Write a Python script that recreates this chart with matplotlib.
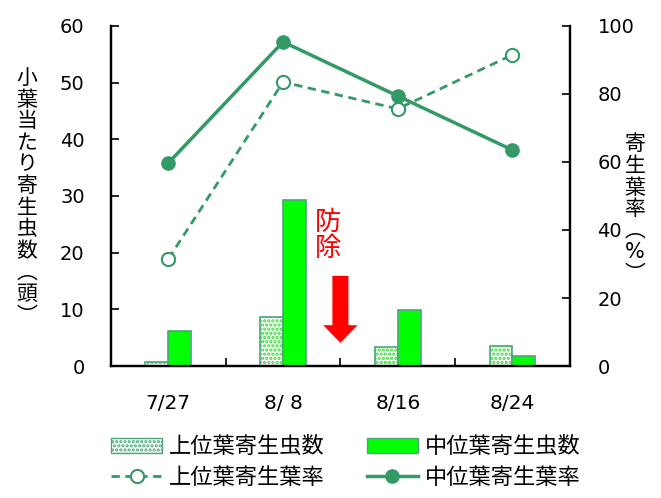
import matplotlib
matplotlib.use('Agg')
import matplotlib.pyplot as plt
from matplotlib.patches import Patch
from matplotlib.lines import Line2D
import numpy as np

plt.rcParams['font.family'] = ['DejaVu Sans', 'Noto Sans CJK JP']
plt.rcParams['hatch.linewidth'] = 1.6

dates = ['7/27', '8/ 8', '8/16', '8/24']
upper_count = [0.7, 8.7, 3.4, 3.6]     # 上位葉寄生虫数
middle_count = [6.2, 29.2, 9.9, 1.8]   # 中位葉寄生虫数
upper_rate = [31.5, 83.5, 75.6, 91.5]  # 上位葉寄生葉率 (%)
middle_rate = [59.7, 95.3, 79.4, 63.5] # 中位葉寄生葉率 (%)

line_green = '#339966'
edge_green = '#4aa57a'
lime = '#00ff00'

fig = plt.figure(figsize=(6.61, 4.98), dpi=100)
ax = fig.add_axes([0.168, 0.265, 0.694, 0.683])
ax2 = ax.twinx()

x = np.arange(len(dates))
w = 0.2

# dotted bars: hatch layer first, then outline on top
ax.bar(x - w / 2, upper_count, w, color='white', edgecolor='#33dd33',
       hatch='....', linewidth=0, zorder=2)
ax.bar(x - w / 2, upper_count, w, fill=False, edgecolor=edge_green,
       linewidth=1.2, zorder=3)
ax.bar(x + w / 2, middle_count, w, color=lime, edgecolor=edge_green,
       linewidth=1.2, zorder=3)

ax2.plot(x, upper_rate, color=line_green, lw=2, ls=(0, (3, 2)),
         marker='o', ms=9.5, mfc='white', mec=line_green, mew=1.5)
ax2.plot(x, middle_rate, color=line_green, lw=2.5,
         marker='o', ms=9.5, mfc=line_green, mec=line_green)

ax.set_xlim(-0.5, 3.5)
ax.set_ylim(0, 60)
ax2.set_ylim(0, 100)
ax.set_yticks(range(0, 61, 10))
ax2.set_yticks(range(0, 101, 20))

# tick marks sit between dates, labels under each date
ax.set_xticks([0.5, 1.5, 2.5])
ax.set_xticklabels([])
ax.set_xticks(x, minor=True)
ax.set_xticklabels(dates, minor=True)
ax.tick_params(axis='x', which='major', direction='in', length=6, width=1.2)
ax.tick_params(axis='x', which='minor', length=0, pad=20, labelsize=14.5)
ax.tick_params(axis='y', direction='in', length=6, width=1.2, labelsize=14, pad=19)
ax2.tick_params(axis='y', direction='in', length=6, width=1.2, labelsize=14, pad=20)

for a in (ax, ax2):
    a.spines['top'].set_visible(False)
    for s in ('left', 'right', 'bottom'):
        a.spines[s].set_linewidth(1.6)

# vertical axis titles, one character per line
left_title = '小葉当たり寄生虫数︵頭︶'
right_title = '寄生葉率︵%︶'
fig.text(0.041, 0.605, '\n'.join(left_title), ha='center', va='center',
         fontsize=15, linespacing=1.1)
fig.text(0.961, 0.580, '\n'.join(right_title), ha='center', va='center',
         fontsize=15, linespacing=1.1)

# control application marker
ax.arrow(1.5, 15.9, 0, -11.8, width=0.14, head_width=0.30, head_length=3.1,
         length_includes_head=True, color='red', lw=0, zorder=4)
ax.text(1.395, 23.0, '防\n除', color='red', fontsize=19, ha='center',
        va='center', linespacing=1.0)

handles = [
    Patch(facecolor='white', edgecolor=edge_green, hatch='....'),
    Line2D([], [], color=line_green, lw=2, ls=(0, (3, 2)), marker='o', ms=9.5,
           mfc='white', mec=line_green, mew=1.5),
    Patch(facecolor=lime, edgecolor=edge_green),
    Line2D([], [], color=line_green, lw=2.5, marker='o', ms=9.5, mfc=line_green),
]
labels = ['上位葉寄生虫数', '上位葉寄生葉率', '中位葉寄生虫数', '中位葉寄生葉率']
fig.legend(handles, labels, ncol=2, loc='center', bbox_to_anchor=(0.523, 0.072),
           frameon=False, fontsize=16, handlelength=2.3, handleheight=0.7,
           columnspacing=1.9, labelspacing=0.45, handletextpad=0.3)

fig.savefig('out.png', dpi=100)
